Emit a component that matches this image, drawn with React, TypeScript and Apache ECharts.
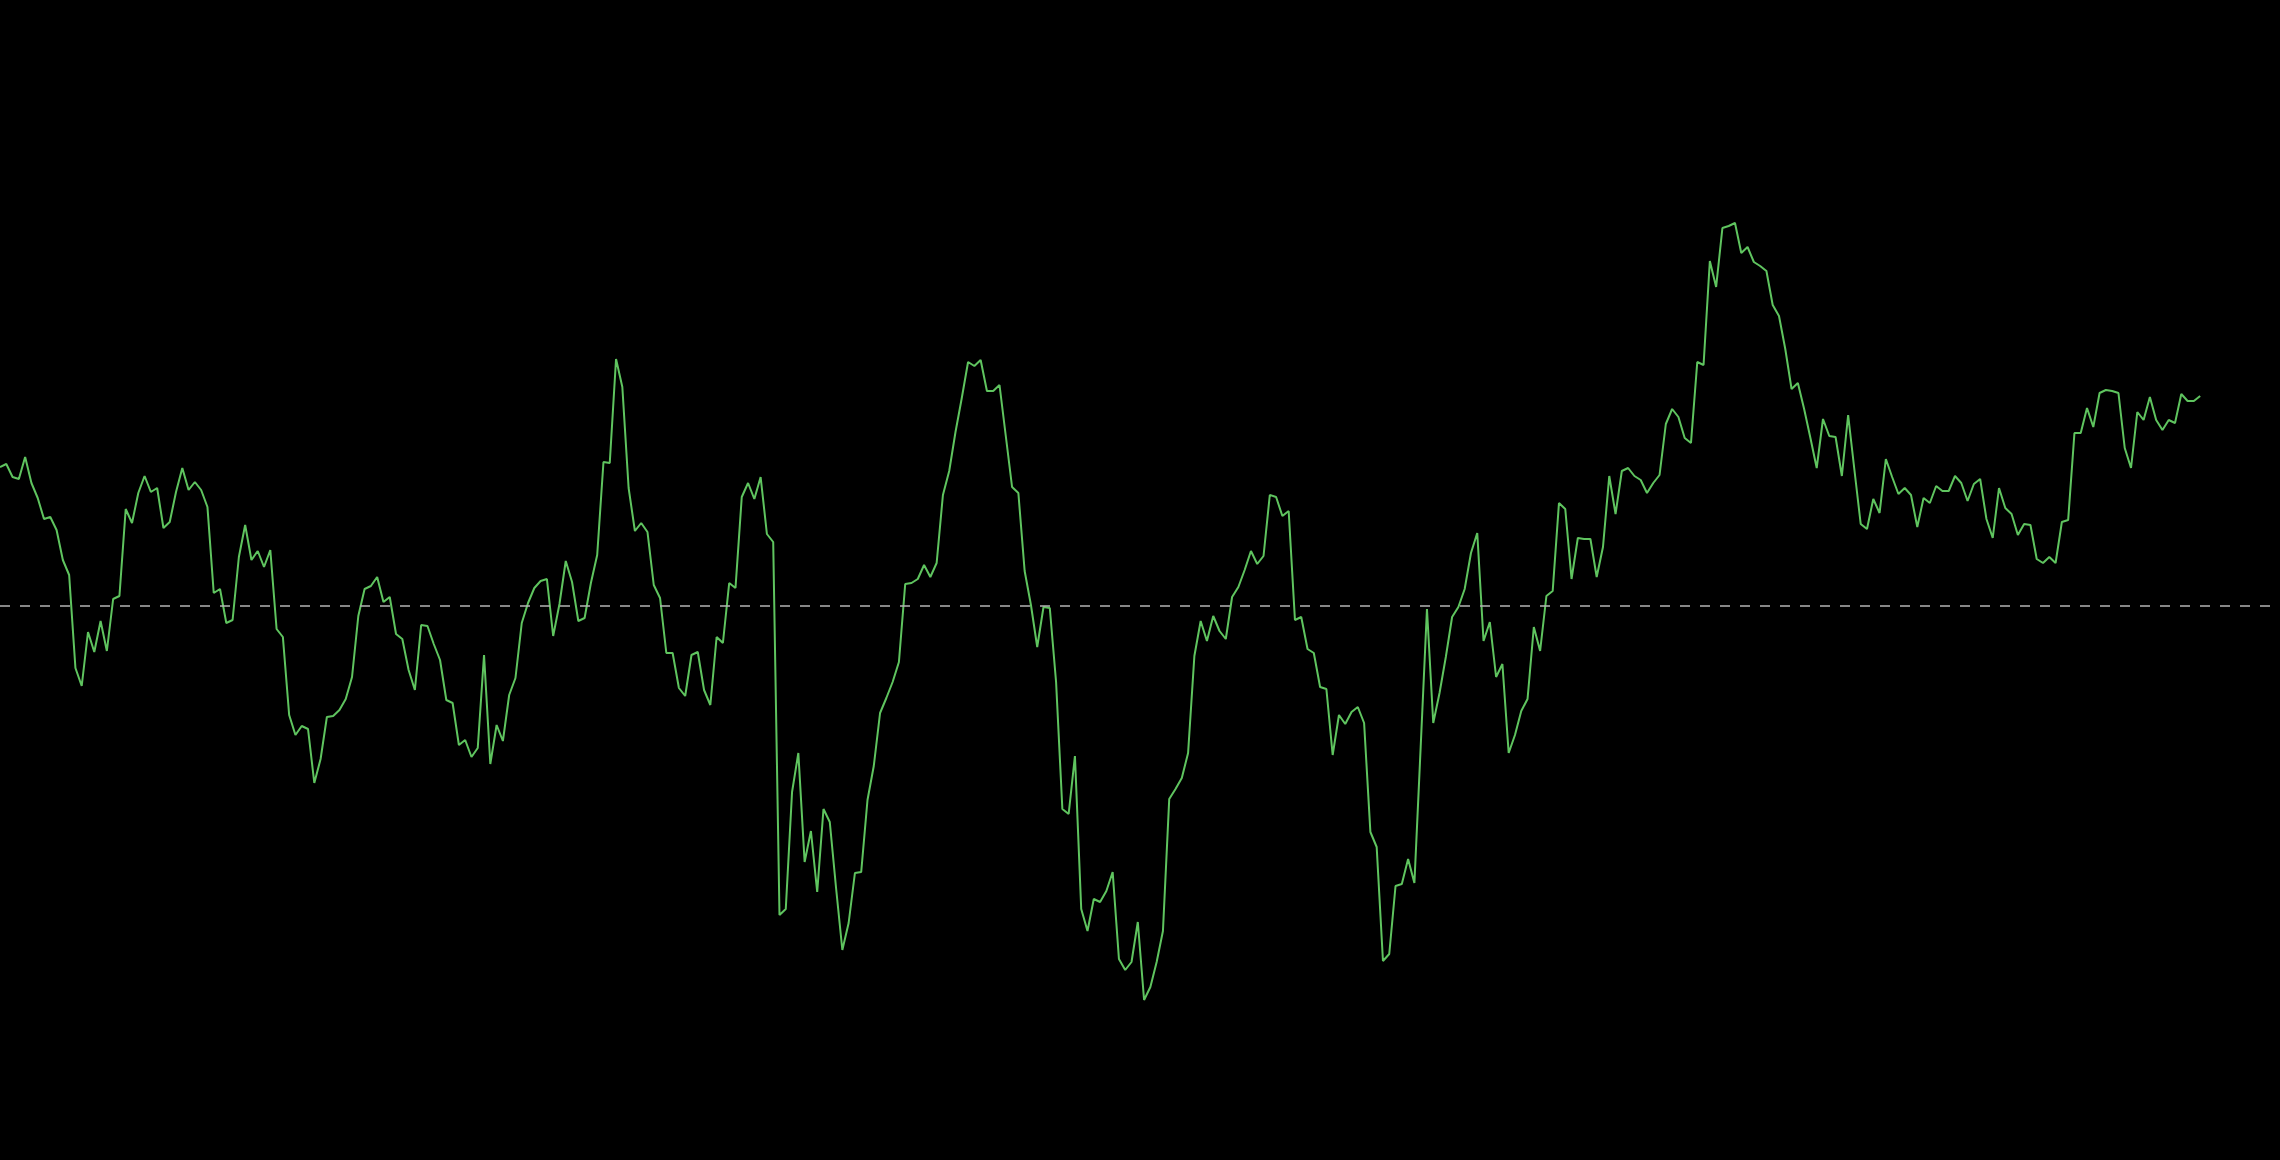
import React, { useEffect, useRef } from "react";
import * as echarts from "echarts";

// Series values (deviation from the reference level)
const values: number[] = [
  13.9, 14.2, 12.9, 12.7, 14.9, 12.3, 10.8, 8.7, 8.9, 7.6,
  4.6, 3.1, -6.2, -8.0, -2.6, -4.6, -1.5, -4.5, 0.7, 1.0,
  9.7, 8.3, 11.3, 13.0, 11.4, 11.8, 7.8, 8.4, 11.4, 13.8,
  11.6, 12.4, 11.6, 9.9, 1.3, 1.7, -1.7, -1.4, 4.9, 8.1,
  4.6, 5.5, 3.9, 5.6, -2.3, -3.1, -10.9, -12.9, -12.0, -12.3,
  -17.7, -15.3, -11.1, -11.0, -10.4, -9.3, -7.1, -1.0, 1.7, 2.0,
  2.9, 0.4, 0.9, -2.8, -3.3, -6.4, -8.4, -1.9, -2.0, -3.8,
  -5.4, -9.4, -9.7, -13.9, -13.4, -15.1, -14.2, -4.9, -15.8, -11.9,
  -13.5, -8.9, -7.2, -1.7, 0.3, 1.8, 2.5, 2.7, -3.0, 0.2,
  4.5, 2.4, -1.5, -1.2, 2.3, 5.1, 14.4, 14.3, 24.7, 21.9,
  11.8, 7.5, 8.3, 7.4, 2.1, 0.8, -4.7, -4.7, -8.2, -9.0,
  -4.9, -4.6, -8.4, -9.9, -3.1, -3.7, 2.3, 1.8, 10.9, 12.3,
  10.7, 12.9, 7.2, 6.4, -30.9, -30.3, -18.6, -14.7, -25.6, -22.5,
  -28.6, -20.3, -21.6, -28.2, -34.4, -31.7, -26.7, -26.6, -19.4, -16.0,
  -10.7, -9.2, -7.6, -5.6, 2.2, 2.3, 2.7, 4.1, 2.9, 4.3,
  11.1, 13.5, 17.4, 20.8, 24.4, 24.0, 24.6, 21.5, 21.5, 22.1,
  17.0, 11.9, 11.3, 3.5, 0.1, -4.1, -0.1, -0.2, -7.6, -20.3,
  -20.8, -15.0, -30.3, -32.5, -29.3, -29.6, -28.5, -26.6, -35.3, -36.4,
  -35.6, -31.6, -39.4, -38.1, -35.6, -32.5, -19.3, -18.3, -17.2, -14.7,
  -5.0, -1.5, -3.5, -1.0, -2.5, -3.3, 0.9, 1.9, 3.6, 5.5,
  4.2, 5.0, 11.1, 10.9, 9.0, 9.5, -1.4, -1.1, -4.3, -4.7,
  -8.1, -8.3, -14.9, -10.9, -11.8, -10.6, -10.1, -11.7, -22.6, -24.1,
  -35.5, -34.8, -28.0, -27.8, -25.3, -27.7, -14.1, -0.3, -11.7, -8.7,
  -5.1, -1.1, -0.1, 1.7, 5.3, 7.3, -3.5, -1.6, -7.1, -5.8,
  -14.7, -12.9, -10.5, -9.3, -2.1, -4.5, 1.0, 1.5, 10.3, 9.7,
  2.7, 6.8, 6.7, 6.7, 2.9, 5.9, 13.0, 9.2, 13.5, 13.8,
  13.0, 12.6, 11.3, 12.3, 13.1, 18.2, 19.7, 18.9, 16.8, 16.3,
  24.4, 24.1, 34.5, 31.9, 37.8, 38.0, 38.3, 35.3, 35.9, 34.4,
  34.0, 33.5, 30.1, 29.0, 25.7, 21.7, 22.3, 19.7, 16.8, 13.8,
  18.7, 17.0, 16.9, 13.0, 19.1, 13.6, 8.2, 7.7, 10.7, 9.3,
  14.7, 12.9, 11.2, 11.8, 11.1, 7.9, 10.8, 10.3, 12.0, 11.5,
  11.5, 13.0, 12.3, 10.5, 12.2, 12.7, 8.7, 6.8, 11.8, 9.8,
  9.2, 7.1, 8.2, 8.1, 4.7, 4.3, 4.9, 4.3, 8.4, 8.6,
  17.3, 17.3, 19.8, 17.9, 21.3, 21.6, 21.5, 21.3, 15.8, 13.8,
  19.4, 18.6, 20.9, 18.6, 17.6, 18.6, 18.3, 21.2, 20.5, 20.5,
  21.0,
];

// Reference level drawn as the dashed line
const referenceLevel = 0;

// Axis ranges (hidden axes)
const xRange = [0, 362.7];
const yRange = [-55.4, 60.6];

export default function App() {
  const ref = useRef<HTMLDivElement>(null);

  useEffect(() => {
    if (!ref.current) return;
    const chart = echarts.init(ref.current, undefined, { renderer: "svg" });
    const seriesData = values.map((v, i) => [i, v]);
    chart.setOption({
      animation: false,
      backgroundColor: "#000000",
      grid: { left: 0, right: 0, top: 0, bottom: 0 },
      xAxis: {
        type: "value",
        min: xRange[0],
        max: xRange[1],
        show: false,
      },
      yAxis: {
        type: "value",
        min: yRange[0],
        max: yRange[1],
        show: false,
      },
      series: [
        {
          type: "line",
          data: seriesData,
          showSymbol: false,
          symbol: "none",
          lineStyle: { color: "#5fc45f", width: 2 },
          markLine: {
            silent: true,
            symbol: ["none", "none"],
            label: { show: false },
            lineStyle: { color: "#b4b4b4", type: [10, 10], width: 1.5 },
            data: [{ yAxis: referenceLevel }],
          },
        },
      ],
    });
    return () => chart.dispose();
  }, []);

  return (
    <div
      ref={ref}
      style={{
        position: "fixed",
        left: 0,
        top: 0,
        width: 2280,
        height: 1160,
        background: "#000",
      }}
    />
  );
}
